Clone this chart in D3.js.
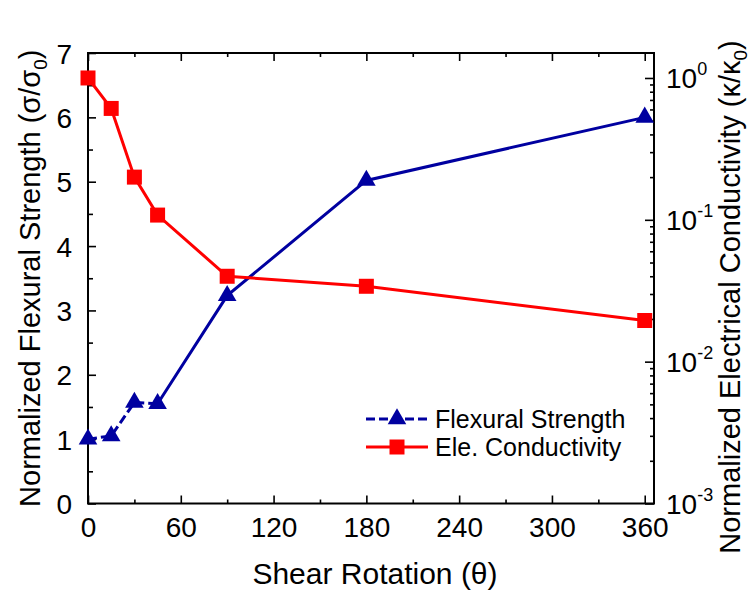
<!DOCTYPE html>
<html>
<head>
<meta charset="utf-8">
<script src="https://cdn.jsdelivr.net/npm/d3@7"></script>
<style>
  body { margin: 0; background: #fff; }
  svg { display: block; }
  text { font-family: "Liberation Sans", Arial, sans-serif; fill: #000; }
</style>
</head>
<body>
<svg id="chart" width="755" height="593"></svg>
<script>
// ---- data ----
const angles = [0, 15, 30, 45, 90, 180, 360];
const strength = [1.0, 1.05, 1.57, 1.55, 3.23, 5.02, 6.0];
const conductivity = [1.0, 0.61, 0.20, 0.108, 0.040, 0.034, 0.0195];
const xTicks = [0, 60, 120, 180, 240, 300, 360];
const yLeftTicks = [0, 1, 2, 3, 4, 5, 6, 7];
const yRightExps = [0, -1, -2, -3];
const seriesNames = ["Flexural Strength", "Ele. Conductivity"];

const blue = "#0000a0", red = "#ff0000";
const svg = d3.select("#chart");
const L = 88, R = 654, T = 53, B = 503.5;

const x = d3.scaleLinear().domain([0, 366]).range([L, R]);
const yL = d3.scaleLinear().domain([0, 7]).range([B, T]);
const yR = d3.scaleLog().domain([1e-3, 1.5]).range([B, T]);

const tickFont = 28;

// frame
svg.append("rect").attr("x", L).attr("y", T).attr("width", R - L).attr("height", B - T)
  .attr("fill", "none").attr("stroke", "#000").attr("stroke-width", 2);

// bottom axis
const gx = svg.append("g").attr("transform", `translate(0,${B})`)
  .call(d3.axisBottom(x).tickValues(xTicks).tickSize(-8).tickPadding(14).tickFormat(d3.format("d")));
const gxm = svg.append("g").attr("transform", `translate(0,${B})`)
  .call(d3.axisBottom(x).tickValues(d3.range(30, 361, 60)).tickSize(-4).tickFormat(""));
// top axis mirrored ticks
const gxt = svg.append("g").attr("transform", `translate(0,${T})`)
  .call(d3.axisTop(x).tickValues(xTicks).tickSize(-8).tickFormat(""));
const gxtm = svg.append("g").attr("transform", `translate(0,${T})`)
  .call(d3.axisTop(x).tickValues(d3.range(30, 361, 60)).tickSize(-4).tickFormat(""));

// left axis
const gy = svg.append("g").attr("transform", `translate(${L},0)`)
  .call(d3.axisLeft(yL).tickValues(yLeftTicks).tickSize(-8).tickPadding(16).tickFormat(d3.format("d")));
const gym = svg.append("g").attr("transform", `translate(${L},0)`)
  .call(d3.axisLeft(yL).tickValues(d3.range(0.5, 7, 1)).tickSize(-5).tickFormat(""));

// right axis (log)
const majorR = yRightExps.map(e => Math.pow(10, e));
const minorR = [];
for (let e = -3; e <= 0; e++) for (let m = 2; m <= 9; m++) {
  const v = m * Math.pow(10, e);
  if (v <= 1.5) minorR.push(v);
}
const gr = svg.append("g").attr("transform", `translate(${R},0)`)
  .call(d3.axisRight(yR).tickValues(majorR).tickSize(-9).tickPadding(14).tickFormat(""));
const grm = svg.append("g").attr("transform", `translate(${R},0)`)
  .call(d3.axisRight(yR).tickValues(minorR).tickSize(-4).tickFormat(""));

[gx, gxm, gxt, gxtm, gy, gym, gr, grm].forEach(g => {
  g.select(".domain").remove();
  g.selectAll(".tick line").attr("stroke", "#000").attr("stroke-width", 1.6);
});
[gx, gy].forEach(g => g.selectAll(".tick text")
  .attr("font-size", tickFont).attr("font-family", "Liberation Sans, Arial, sans-serif").attr("fill", "#000"));
gy.selectAll(".tick text").attr("dy", "0.36em");

// right tick labels 10^n
gr.selectAll(".tick").each(function(d) {
  const t = d3.select(this).append("text").attr("x", 12).attr("y", 10)
    .attr("text-anchor", "start").attr("font-size", tickFont).attr("fill", "#000");
  t.append("tspan").text("10");
  t.append("tspan").attr("font-size", 18).attr("dy", -13).text(String(Math.round(Math.log10(d))).replace("-", "-"));
});

// blue series: dashed first part, solid rest
const pts = angles.map((a, i) => ({a, s: strength[i], c: conductivity[i]}));
const lineS = d3.line().x(d => x(d.a)).y(d => yL(d.s));
const lineC = d3.line().x(d => x(d.a)).y(d => yR(d.c));

svg.append("path").datum(pts.filter(d => d.a <= 45)).attr("d", lineS)
  .attr("fill", "none").attr("stroke", blue).attr("stroke-width", 3).attr("stroke-dasharray", "9,4");
svg.append("path").datum(pts.filter(d => d.a >= 45)).attr("d", lineS)
  .attr("fill", "none").attr("stroke", blue).attr("stroke-width", 3);

// red series
svg.append("path").datum(pts).attr("d", lineC)
  .attr("fill", "none").attr("stroke", red).attr("stroke-width", 3);

const tri = d3.symbol().type(d3.symbolTriangle).size(150);
const sq = d3.symbol().type(d3.symbolSquare).size(225);

svg.selectAll(".sq").data(pts).join("path")
  .attr("d", sq).attr("transform", d => `translate(${x(d.a)},${yR(d.c)})`).attr("fill", red);
svg.selectAll(".tri").data(pts).join("path")
  .attr("d", tri).attr("transform", d => `translate(${x(d.a)},${yL(d.s)})`).attr("fill", blue);

// legend
const lg = svg.append("g");
const rows = [
  {name: seriesNames[0], color: blue, sym: tri, dash: "9,4", y: 419},
  {name: seriesNames[1], color: red, sym: sq, dash: null, y: 447}
];
rows.forEach(r => {
  lg.append("line").attr("x1", 366).attr("x2", 428).attr("y1", r.y).attr("y2", r.y)
    .attr("stroke", r.color).attr("stroke-width", 3).attr("stroke-dasharray", r.dash);
  lg.append("path").attr("d", r.sym).attr("transform", `translate(397,${r.y})`).attr("fill", r.color);
  lg.append("text").attr("x", 435).attr("y", r.y).attr("dy", "0.36em")
    .attr("font-size", 25).text(r.name);
});

// axis titles
svg.append("text").attr("x", (L + R) / 2 + 4).attr("y", 584)
  .attr("text-anchor", "middle").attr("font-size", 30)
  .text("Shear Rotation (θ)");

const lt = svg.append("text").attr("transform", `translate(40,${(T + B) / 2}) rotate(-90)`)
  .attr("text-anchor", "middle").attr("font-size", 29);
lt.append("tspan").text("Normalized Flexural Strength (σ/σ");
lt.append("tspan").attr("font-size", 19).attr("dy", 7).text("0");
lt.append("tspan").attr("dy", -7).text(")");

const rt = svg.append("text").attr("transform", `translate(740,297) rotate(-90)`)
  .attr("text-anchor", "middle").attr("font-size", 29);
rt.append("tspan").text("Normalized Electrical Conductivity (κ/κ");
rt.append("tspan").attr("font-size", 19).attr("dy", 7).text("0");
rt.append("tspan").attr("dy", -7).text(")");
</script>
</body>
</html>
